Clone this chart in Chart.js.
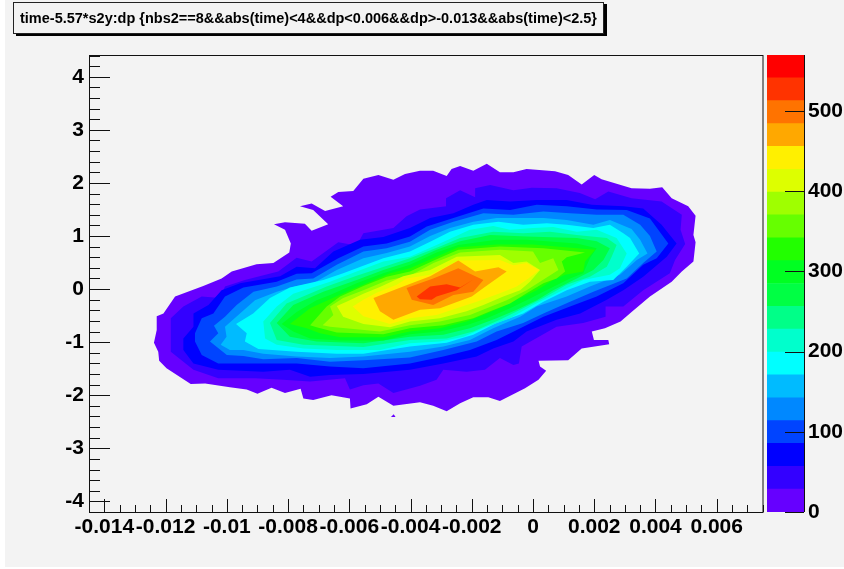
<!DOCTYPE html>
<html>
<head>
<meta charset="utf-8">
<script src="https://cdn.jsdelivr.net/npm/chart.js@4"></script>
<style>
  html, body { margin: 0; padding: 0; background: #fff; }
  #page { position: relative; width: 844px; height: 569px; overflow: hidden; }
  #pad { position: absolute; left: 5px; top: 0; width: 839px; height: 567px; background: #f3f3f3; }
  canvas { position: absolute; left: 0; top: 0; }
  #title {
    position: absolute; left: 13px; top: 2px; width: 589px; height: 30px;
    border: 1px solid #222; box-shadow: 3px 2px 0 #000; background: #f3f3f3;
    font: bold 14.5px "Liberation Sans", sans-serif; line-height: 30px; color: #000; white-space: nowrap;
    text-indent: 6px;
  }
</style>
</head>
<body>
<div id="page">
  <div id="pad"></div>
  <canvas id="contour" width="844" height="569"></canvas>
  <canvas id="palette" width="844" height="569"></canvas>
  <div id="title">time-5.57*s2y:dp {nbs2==8&amp;&amp;abs(time)&lt;4&amp;&amp;dp&lt;0.006&amp;&amp;dp&gt;-0.013&amp;&amp;abs(time)&lt;2.5}</div>
</div>
<script>
// axis ticks
const xTickValues = [-0.014, -0.012, -0.01, -0.008, -0.006, -0.004, -0.002, 0, 0.002, 0.004, 0.006];
const xTickLabels = ['-0.014', '-0.012', '-0.01', '-0.008', '-0.006', '-0.004', '-0.002', '0', '0.002', '0.004', '0.006'];
const yTickValues = [-4, -3, -2, -1, 0, 1, 2, 3, 4];
const yTickLabels = ['-4', '-3', '-2', '-1', '0', '1', '2', '3', '4'];
const zTickValues = [0, 100, 200, 300, 400, 500];
const zTickLabels = ['0', '100', '200', '300', '400', '500'];

// palette, bottom to top
const levelEdges = [0, 28.5, 57, 85.5, 114, 142.5, 171, 199.5, 228, 256.5, 285, 313.5, 342, 370.5, 399, 427.5, 456, 484.5, 513, 541.5, 570];
const levelColors = ['#6600ff', '#3300ff', '#0000ff', '#0044ff', '#0088ff', '#00bbff', '#00ffff', '#00ffcc', '#00ff88', '#00ff44',
                     '#00ff22', '#22ff00', '#66ff00', '#9fff00', '#ddff00', '#fff000', '#ffa800', '#ff7300', '#ff3300', '#ff0000'];

// contour outlines: [dp * 1000, time]
const level0 = [[-12.29,-0.51],[-12.07,-0.46],[-11.69,-0.14],[-10.77,0.06],[-10.17,0.20],[-9.84,0.33],[-9.03,0.47],[-8.48,0.49],[-7.96,0.69],[-7.91,0.86],[-8.10,1.12],[-8.46,1.22],[-8.10,1.26],[-7.45,1.23],[-7.23,1.10],[-6.69,1.22],[-7.18,1.49],[-7.61,1.56],[-7.23,1.61],[-6.79,1.47],[-6.20,1.56],[-6.61,1.74],[-6.36,1.83],[-5.87,1.85],[-5.54,2.08],[-5.05,2.15],[-4.56,2.06],[-4.18,2.17],[-3.69,2.23],[-3.26,2.23],[-2.82,2.13],[-2.66,2.26],[-2.38,2.32],[-1.95,2.23],[-1.51,2.36],[-1.08,2.20],[-0.64,2.20],[-0.21,2.26],[0.72,2.22],[1.15,2.15],[1.59,1.97],[2.00,2.15],[2.24,2.07],[3.22,1.90],[3.82,1.89],[4.22,1.92],[4.53,1.71],[5.07,1.56],[5.31,1.38],[5.24,1.02],[5.31,0.88],[5.24,0.52],[4.86,0.33],[4.53,0.14],[3.82,-0.14],[3.22,-0.43],[2.86,-0.61],[2.35,-0.74],[1.92,-0.80],[1.99,-0.96],[2.46,-0.96],[2.49,-1.04],[1.59,-1.12],[1.15,-1.34],[0.18,-1.35],[0.23,-1.46],[0.43,-1.54],[0.18,-1.71],[-0.26,-1.87],[-1.08,-2.11],[-1.46,-2.04],[-1.95,-2.04],[-2.38,-2.15],[-2.82,-2.30],[-3.26,-2.20],[-3.69,-2.13],[-4.56,-2.20],[-5.05,-2.03],[-5.43,-2.17],[-5.96,-2.25],[-5.98,-2.06],[-6.58,-2.00],[-7.18,-2.09],[-7.50,-2.06],[-7.59,-1.88],[-8.10,-1.96],[-8.54,-1.86],[-9.00,-1.97],[-9.35,-1.89],[-9.90,-1.85],[-10.71,-1.78],[-11.18,-1.79],[-11.97,-1.49],[-12.21,-1.35],[-12.24,-1.18],[-12.38,-1.01],[-12.29,-0.77]];
const level0Speck = [[-4.64,-2.41],[-4.55,-2.36],[-4.49,-2.41]];
const level1 = [[-11.83,-0.77],[-11.83,-0.55],[-11.42,-0.33],[-10.82,-0.14],[-10.22,-0.17],[-10.06,0.05],[-9.41,0.17],[-8.32,0.33],[-7.72,0.59],[-7.23,0.52],[-6.36,0.88],[-5.76,0.82],[-5.54,1.05],[-4.56,1.15],[-4.13,1.37],[-3.69,1.50],[-2.82,1.56],[-2.84,1.71],[-2.38,1.86],[-1.89,1.73],[-1.89,1.90],[-1.40,1.96],[-0.64,1.86],[-0.04,1.91],[0.77,1.90],[1.53,1.81],[2.03,1.69],[2.46,1.84],[3.22,1.71],[4.20,1.65],[4.86,1.40],[4.82,1.12],[4.97,0.85],[4.64,0.55],[4.47,0.30],[3.60,-0.02],[2.95,-0.33],[2.37,-0.33],[2.37,-0.52],[1.64,-0.64],[0.77,-0.71],[-0.37,-1.08],[-0.46,-1.40],[-0.64,-1.43],[-1.08,-1.30],[-1.57,-1.52],[-2.17,-1.56],[-2.93,-1.52],[-3.15,-1.71],[-3.69,-1.82],[-4.56,-1.96],[-5.05,-1.78],[-5.54,-1.81],[-5.98,-1.89],[-6.14,-1.68],[-7.28,-1.74],[-8.16,-1.71],[-9.08,-1.68],[-10.28,-1.68],[-11.09,-1.52],[-11.83,-1.18]];
const level2 = [[-11.42,-0.93],[-11.09,-0.71],[-11.09,-0.46],[-10.60,-0.30],[-10.17,-0.02],[-9.57,0.11],[-8.26,0.24],[-7.72,0.42],[-7.12,0.39],[-6.52,0.71],[-5.65,0.93],[-4.89,0.98],[-4.02,1.15],[-3.36,1.34],[-2.60,1.43],[-1.95,1.59],[-1.51,1.68],[-0.75,1.65],[0.12,1.68],[1.10,1.68],[1.92,1.59],[2.95,1.56],[3.60,1.52],[4.20,1.21],[4.69,0.86],[4.37,0.61],[3.60,0.23],[2.95,-0.02],[2.41,-0.20],[1.54,-0.46],[0.77,-0.58],[-0.21,-0.80],[-0.64,-0.99],[-1.30,-1.12],[-1.84,-1.27],[-2.93,-1.40],[-4.02,-1.52],[-5.54,-1.60],[-6.63,-1.62],[-7.28,-1.65],[-7.94,-1.52],[-8.81,-1.56],[-10.28,-1.52],[-11.09,-1.40],[-11.42,-1.15]];
const level3 = [[-11.04,-0.83],[-10.82,-0.55],[-10.44,-0.46],[-10.06,-0.14],[-9.46,0.03],[-8.37,0.14],[-7.72,0.29],[-7.23,0.30],[-6.36,0.58],[-5.54,0.80],[-4.78,0.86],[-4.02,0.99],[-3.47,1.18],[-2.60,1.34],[-1.62,1.52],[-0.75,1.49],[0.12,1.59],[1.10,1.56],[2.08,1.50],[3.06,1.49],[3.82,1.33],[4.42,0.86],[4.04,0.58],[3.60,0.46],[2.95,0.11],[2.08,-0.14],[1.21,-0.33],[0.34,-0.52],[-0.53,-0.77],[-1.19,-0.96],[-2.06,-1.15],[-2.93,-1.27],[-4.02,-1.40],[-5.54,-1.49],[-6.63,-1.46],[-7.72,-1.40],[-8.81,-1.40],[-10.28,-1.40],[-10.82,-1.24],[-11.04,-0.99]];
const level4 = [[-10.55,-0.99],[-10.28,-0.83],[-10.42,-0.69],[-10.06,-0.52],[-9.68,-0.30],[-9.13,-0.05],[-8.37,0.05],[-7.72,0.18],[-7.18,0.20],[-6.41,0.46],[-5.54,0.71],[-4.78,0.77],[-4.02,0.89],[-3.36,1.12],[-2.60,1.27],[-1.62,1.43],[-0.64,1.40],[0.34,1.46],[1.21,1.43],[2.08,1.40],[2.95,1.40],[3.50,1.21],[3.82,1.00],[4.04,0.71],[3.60,0.49],[3.06,0.20],[1.97,-0.05],[1.21,-0.24],[0.34,-0.46],[-0.32,-0.64],[-1.19,-0.80],[-1.84,-0.99],[-2.93,-1.15],[-4.02,-1.29],[-5.54,-1.34],[-6.63,-1.37],[-7.72,-1.30],[-8.81,-1.32],[-9.46,-1.26],[-10.00,-1.24]];
const level5 = [[-10.20,-1.05],[-10.01,-0.90],[-10.06,-0.71],[-9.57,-0.46],[-9.08,-0.21],[-8.37,-0.05],[-7.72,0.06],[-7.18,0.11],[-6.41,0.36],[-5.54,0.58],[-4.78,0.68],[-4.02,0.80],[-3.36,1.00],[-2.71,1.15],[-1.95,1.27],[-1.19,1.34],[-0.32,1.34],[0.34,1.34],[1.10,1.30],[1.97,1.21],[2.51,1.30],[3.22,1.13],[3.50,0.93],[3.74,0.67],[3.39,0.55],[2.84,0.27],[1.86,0.05],[1.10,-0.14],[0.12,-0.33],[-0.42,-0.52],[-1.30,-0.74],[-2.06,-0.96],[-2.93,-1.08],[-4.02,-1.18],[-5.54,-1.27],[-6.63,-1.30],[-7.72,-1.27],[-8.81,-1.22],[-9.46,-1.15],[-9.90,-1.15]];
const level6 = [[-9.70,-0.66],[-9.14,-0.46],[-8.59,-0.17],[-7.94,0.03],[-6.85,0.17],[-6.20,0.30],[-4.89,0.58],[-4.02,0.71],[-3.36,0.89],[-2.71,1.08],[-1.95,1.21],[-1.13,1.27],[-0.32,1.21],[0.45,1.24],[1.10,1.21],[1.97,1.15],[2.51,1.21],[2.95,1.05],[3.17,0.96],[3.47,0.67],[3.06,0.42],[2.62,0.17],[1.86,0.14],[1.10,-0.02],[0.34,-0.24],[-0.32,-0.46],[-1.19,-0.64],[-1.95,-0.86],[-2.82,-1.01],[-4.02,-1.08],[-5.54,-1.22],[-6.41,-1.22],[-7.72,-1.18],[-8.97,-1.13],[-9.41,-0.99],[-9.35,-0.83]];
const level7 = [[-8.81,-0.61],[-8.37,-0.33],[-7.83,-0.09],[-6.63,0.14],[-5.76,0.33],[-4.89,0.52],[-4.02,0.61],[-3.15,0.83],[-2.06,1.12],[-1.30,1.19],[-0.75,1.12],[0.00,1.15],[0.66,1.17],[1.43,1.08],[2.08,1.12],[2.73,0.96],[3.06,0.67],[2.84,0.39],[2.51,0.27],[1.64,0.17],[0.77,-0.08],[0.01,-0.30],[-0.75,-0.55],[-1.51,-0.71],[-2.27,-0.90],[-3.04,-0.99],[-4.02,-1.02],[-5.00,-1.15],[-6.41,-1.15],[-7.50,-1.12],[-8.37,-1.05],[-8.75,-0.93]];
const level8 = [[-8.59,-0.64],[-8.05,-0.27],[-7.72,-0.19],[-6.74,0.05],[-5.76,0.25],[-4.67,0.46],[-4.02,0.58],[-3.04,0.80],[-2.38,0.96],[-1.30,1.08],[-0.32,1.05],[0.55,1.08],[1.43,1.02],[2.41,0.96],[2.73,0.83],[2.57,0.61],[2.41,0.42],[1.86,0.23],[1.10,0.08],[0.34,-0.17],[-0.42,-0.39],[-1.08,-0.58],[-1.95,-0.80],[-2.82,-0.93],[-4.02,-0.96],[-5.54,-1.09],[-7.50,-1.05],[-8.37,-0.96]];
const level9 = [[-8.37,-0.64],[-7.83,-0.30],[-6.85,-0.05],[-5.76,0.17],[-4.89,0.36],[-4.02,0.52],[-3.15,0.74],[-2.38,0.90],[-1.40,1.02],[-0.21,0.99],[1.43,0.96],[2.08,0.90],[2.51,0.77],[2.30,0.55],[1.97,0.36],[1.43,0.20],[0.66,-0.02],[0.12,-0.21],[-0.53,-0.39],[-1.19,-0.55],[-2.06,-0.74],[-2.93,-0.86],[-4.02,-0.90],[-5.54,-1.02],[-7.07,-0.99],[-7.94,-0.90]];
const level10 = [[-8.21,-0.66],[-7.72,-0.43],[-7.07,-0.21],[-6.63,-0.11],[-5.76,0.11],[-4.89,0.30],[-4.02,0.46],[-3.15,0.69],[-2.44,0.83],[-1.19,0.93],[-0.21,0.93],[1.43,0.86],[2.08,0.77],[1.86,0.58],[1.64,0.30],[1.21,0.20],[0.34,-0.05],[-0.21,-0.21],[-0.75,-0.36],[-1.51,-0.55],[-2.17,-0.68],[-3.04,-0.80],[-4.02,-0.85],[-4.89,-0.97],[-6.30,-0.97],[-7.28,-0.93],[-7.83,-0.80]];
const level11 = [[-7.94,-0.66],[-7.28,-0.36],[-6.63,-0.19],[-5.98,-0.02],[-5.32,0.14],[-4.67,0.30],[-4.02,0.39],[-3.15,0.61],[-2.44,0.79],[-1.19,0.84],[0.00,0.84],[2.03,0.74],[1.70,0.52],[1.64,0.33],[1.05,0.27],[0.66,0.17],[0.12,-0.02],[-0.42,-0.17],[-0.97,-0.33],[-1.62,-0.49],[-2.17,-0.61],[-3.04,-0.74],[-4.02,-0.80],[-4.89,-0.91],[-6.30,-0.91],[-6.96,-0.83],[-7.39,-0.74]];
const level12 = [[-7.28,-0.68],[-6.74,-0.33],[-6.30,-0.14],[-5.54,0.06],[-4.78,0.23],[-4.02,0.33],[-3.15,0.56],[-2.44,0.74],[-1.08,0.80],[0.34,0.77],[1.70,0.69],[1.10,0.60],[0.94,0.52],[1.05,0.33],[0.77,0.20],[0.34,0.11],[-0.21,-0.08],[-0.75,-0.27],[-1.40,-0.42],[-1.95,-0.55],[-2.93,-0.68],[-4.02,-0.74],[-4.89,-0.85],[-6.41,-0.82],[-7.07,-0.72]];
const level13 = [[-6.87,-0.68],[-6.52,-0.49],[-6.63,-0.33],[-6.20,-0.17],[-5.54,-0.02],[-4.78,0.16],[-4.02,0.25],[-3.25,0.49],[-2.38,0.69],[-1.08,0.74],[0.00,0.71],[0.23,0.49],[0.66,0.58],[0.83,0.36],[0.23,0.14],[-0.21,-0.02],[-0.86,-0.21],[-1.51,-0.36],[-2.06,-0.49],[-3.04,-0.61],[-4.02,-0.68],[-5.00,-0.80],[-6.63,-0.71]];
const level14 = [[-6.41,-0.32],[-6.09,-0.24],[-5.54,-0.09],[-5.00,0.04],[-4.24,0.24],[-3.36,0.36],[-2.49,0.61],[-1.08,0.64],[-0.64,0.49],[-0.21,0.52],[0.23,0.36],[-0.10,0.14],[-0.42,-0.02],[-0.97,-0.14],[-1.62,-0.30],[-2.17,-0.42],[-3.04,-0.55],[-4.02,-0.61],[-4.67,-0.72],[-5.54,-0.66],[-6.20,-0.52]];
const level15 = [[-5.89,-0.33],[-5.54,-0.20],[-5.11,-0.07],[-4.45,0.08],[-4.13,0.20],[-3.36,0.27],[-2.44,0.54],[-1.08,0.55],[-0.64,0.45],[-0.21,0.49],[0.21,0.36],[-0.15,0.20],[-0.53,0.05],[-1.08,-0.08],[-1.84,-0.24],[-2.49,-0.36],[-3.15,-0.49],[-4.02,-0.55],[-4.67,-0.66],[-5.54,-0.51]];
const level16 = [[-5.21,-0.17],[-4.24,0.05],[-3.36,0.24],[-2.44,0.54],[-1.89,0.33],[-1.13,0.41],[-0.86,0.33],[-1.62,0.02],[-2.00,-0.14],[-3.04,-0.36],[-3.69,-0.39],[-4.56,-0.58],[-5.00,-0.42]];
const level17 = [[-4.13,0.02],[-3.26,0.20],[-2.44,0.39],[-1.62,0.17],[-1.95,-0.05],[-2.60,-0.11],[-3.26,-0.30],[-3.96,-0.20]];
const level18 = [[-3.80,-0.14],[-3.36,0.05],[-2.82,0.09],[-2.38,0.03],[-1.95,0.18],[-2.49,-0.02],[-3.15,-0.14],[-3.31,-0.20],[-3.69,-0.19]];

const contourOutlines = [
  [0, level0], [0, level0Speck], [1, level1], [2, level2], [3, level3], [4, level4], [5, level5],
  [6, level6], [7, level7], [8, level8], [9, level9], [10, level10], [11, level11], [12, level12],
  [13, level13], [14, level14], [15, level15], [16, level16], [17, level17], [18, level18]
];

const axisFont = { family: '"Liberation Sans", sans-serif', size: 21, weight: 'bold' };

// ROOT style axes: inward ticks and a frame around the pad
const insideTicks = {
  id: 'insideTicks',
  afterDatasetsDraw(chart) {
    const { ctx, chartArea: a, scales: { x, y } } = chart;
    ctx.save();
    ctx.strokeStyle = '#111';
    ctx.lineWidth = 1;
    ctx.strokeRect(a.left - 0.5, a.top + 0.5, a.right - a.left + 0.5, a.bottom - a.top);
    ctx.beginPath();
    for (let k = Math.ceil(x.min / 0.0005); k <= x.max / 0.0005; k++) {
      const px = Math.round(x.getPixelForValue(k * 0.0005)) + 0.5;
      ctx.moveTo(px, a.bottom);
      ctx.lineTo(px, a.bottom - (k % 4 === 0 ? 13 : 7));
    }
    for (let k = Math.ceil(y.min / 0.2); k <= y.max / 0.2; k++) {
      const py = Math.round(y.getPixelForValue(k * 0.2)) + 0.5;
      ctx.moveTo(a.left, py);
      ctx.lineTo(a.left + (k % 5 === 0 ? 20 : 10), py);
    }
    ctx.stroke();
    ctx.restore();
  }
};

new Chart(document.getElementById('contour').getContext('2d'), {
  type: 'scatter',
  data: {
    datasets: contourOutlines.map(([level, outline], i) => ({
      label: 'level ' + level,
      data: outline.map(p => ({ x: p[0] / 1000, y: p[1] })),
      showLine: true,
      fill: 'shape',
      backgroundColor: levelColors[level],
      borderColor: 'transparent',
      pointRadius: 0,
      order: 100 - i
    }))
  },
  options: {
    responsive: false,
    animation: false,
    layout: { padding: { top: 55, right: 81, left: 0, bottom: 0 } },
    plugins: { legend: { display: false }, tooltip: { enabled: false } },
    scales: {
      x: {
        type: 'linear',
        min: -0.014469,
        max: 0.007512,
        grid: { display: false, drawTicks: false },
        border: { display: false },
        afterBuildTicks(scale) { scale.ticks = xTickValues.map(v => ({ value: v })); },
        afterFit(scale) { scale.height = 57; },
        ticks: {
          autoSkip: false, maxRotation: 0, minRotation: 0, padding: 3, color: '#000', font: axisFont,
          callback: (v) => xTickLabels[xTickValues.indexOf(v)]
        }
      },
      y: {
        type: 'linear',
        min: -4.2,
        max: 4.41,
        grid: { display: false, drawTicks: false },
        border: { display: false },
        afterBuildTicks(scale) { scale.ticks = yTickValues.map(v => ({ value: v })); },
        afterFit(scale) { scale.width = 90; },
        ticks: {
          autoSkip: false, padding: 6, color: '#000', font: axisFont,
          callback: (v) => yTickLabels[yTickValues.indexOf(v)]
        }
      }
    }
  },
  plugins: [insideTicks]
});

const paletteTicks = {
  id: 'paletteTicks',
  afterDatasetsDraw(chart) {
    const { ctx, chartArea: a, scales: { y } } = chart;
    ctx.save();
    ctx.strokeStyle = '#111';
    ctx.lineWidth = 1;
    ctx.beginPath();
    ctx.moveTo(a.right + 0.5, a.top);
    ctx.lineTo(a.right + 0.5, a.bottom);
    zTickValues.forEach(v => {
      const py = Math.round(y.getPixelForValue(v)) + 0.5;
      ctx.moveTo(a.right, py);
      ctx.lineTo(a.right - 19, py);
    });
    ctx.stroke();
    ctx.restore();
  }
};

new Chart(document.getElementById('palette').getContext('2d'), {
  type: 'bar',
  data: {
    labels: ['z'],
    datasets: levelColors.map((color, i) => ({
      data: [[levelEdges[i], levelEdges[i + 1]]],
      backgroundColor: color,
      categoryPercentage: 1,
      barPercentage: 1
    }))
  },
  options: {
    responsive: false,
    animation: false,
    layout: { padding: { top: 55, left: 767, right: 0, bottom: 57 } },
    plugins: { legend: { display: false }, tooltip: { enabled: false } },
    scales: {
      x: { display: false, stacked: true },
      y: {
        position: 'right',
        min: 0,
        max: 570,
        grid: { display: false, drawTicks: false },
        border: { display: false },
        afterBuildTicks(scale) { scale.ticks = zTickValues.map(v => ({ value: v })); },
        afterFit(scale) { scale.width = 40; },
        ticks: {
          autoSkip: false, padding: 4, color: '#000', font: axisFont,
          callback: (v) => zTickLabels[zTickValues.indexOf(v)]
        }
      }
    }
  },
  plugins: [paletteTicks]
});
</script>
</body>
</html>
